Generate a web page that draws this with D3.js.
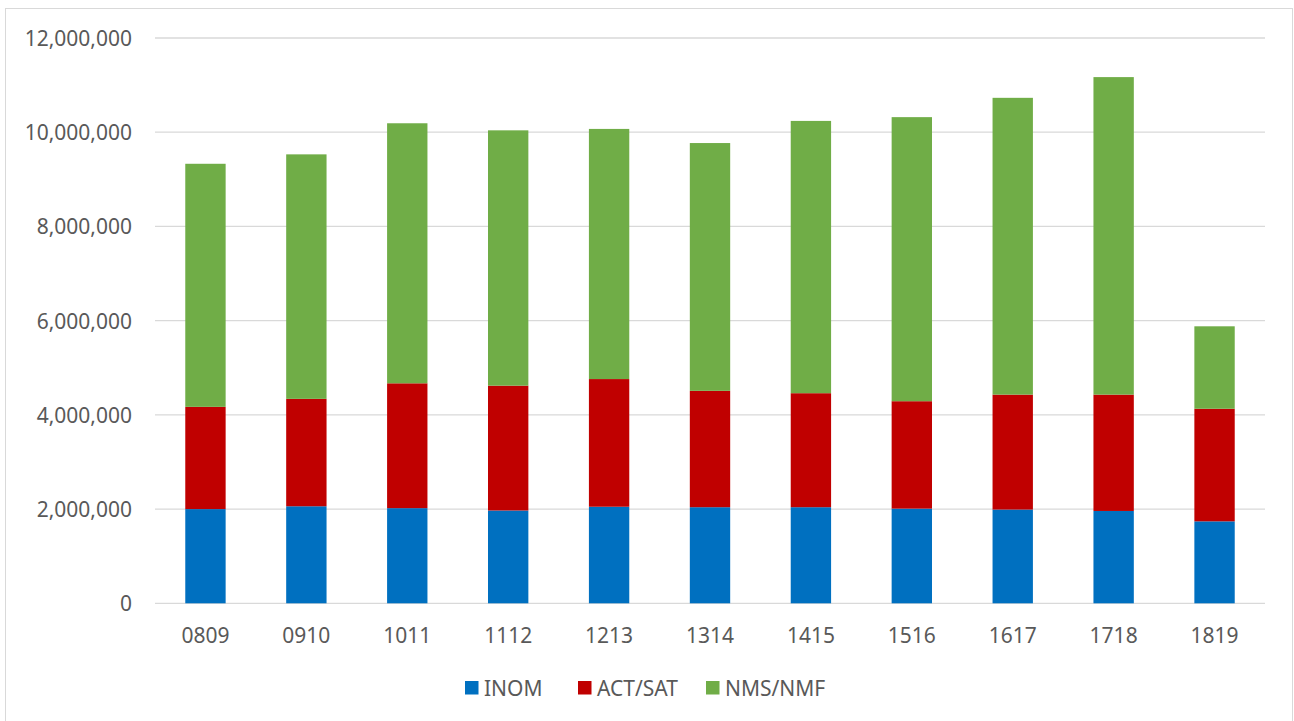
<!DOCTYPE html>
<html>
<head>
<meta charset="utf-8">
<script src="https://cdn.jsdelivr.net/npm/d3@7"></script>
<style>
  html, body { margin: 0; padding: 0; background: #fff; }
  svg { display: block; }
  text { font-family: "Noto Sans", "Open Sans", sans-serif; fill: #595959; }
</style>
</head>
<body>
<svg id="chart" width="1294" height="721"></svg>
<script>
const categories = ["0809", "0910", "1011", "1112", "1213", "1314", "1415", "1516", "1617", "1718", "1819"];
const seriesNames = ["INOM", "ACT/SAT", "NMS/NMF"];
const inom   = [2000000, 2060000, 2020000, 1970000, 2050000, 2040000, 2040000, 2010000, 1990000, 1960000, 1740000];
const actSat = [2170000, 2280000, 2650000, 2650000, 2710000, 2470000, 2420000, 2280000, 2440000, 2470000, 2390000];
const nmsNmf = [5160000, 5190000, 5520000, 5420000, 5310000, 5260000, 5780000, 6030000, 6300000, 6740000, 1750000];
const yTicks = [0, 2000000, 4000000, 6000000, 8000000, 10000000, 12000000];
const colors = ["#0070C0", "#C00000", "#70AD47"];

const svg = d3.select("#chart");

// chart border
svg.append("rect")
  .attr("x", 5.5).attr("y", 8.5).attr("width", 1287).attr("height", 713)
  .attr("fill", "none").attr("stroke", "#d9d9d9").attr("stroke-width", 1);

const x = d3.scaleBand().domain(categories).range([155, 1265]).paddingInner(0.6).paddingOuter(0.3);
const y = d3.scaleLinear().domain([0, 12000000]).range([603.3, 38]);

// gridlines
svg.append("g").selectAll("line").data(yTicks).join("line")
  .attr("x1", 155).attr("x2", 1265)
  .attr("y1", d => y(d)).attr("y2", d => y(d))
  .attr("stroke", "#d9d9d9").attr("stroke-width", 1.3);

// y labels
const fmt = d3.format(",");
svg.append("g").selectAll("text").data(yTicks).join("text")
  .attr("x", 132).attr("y", d => y(d))
  .attr("text-anchor", "end").attr("dominant-baseline", "central")
  .style("font-size", "21px")
  .text(d => fmt(d));

// stacked data
const table = categories.map((c, i) => ({ cat: c, "INOM": inom[i], "ACT/SAT": actSat[i], "NMS/NMF": nmsNmf[i] }));
const stack = d3.stack().keys(seriesNames)(table);

svg.append("g").selectAll("g").data(stack).join("g")
  .attr("fill", (d, i) => colors[i])
  .selectAll("rect").data(d => d).join("rect")
  .attr("x", d => x(d.data.cat))
  .attr("width", x.bandwidth())
  .attr("y", d => y(d[1]))
  .attr("height", d => y(d[0]) - y(d[1]));

// x labels
svg.append("g").selectAll("text").data(categories).join("text")
  .attr("x", d => x(d) + x.bandwidth() / 2).attr("y", 635)
  .attr("text-anchor", "middle").attr("dominant-baseline", "central")
  .style("font-size", "21px")
  .text(d => d);

// legend
const legendX = [465, 578, 706];
const lg = svg.append("g").selectAll("g").data(seriesNames).join("g")
  .attr("transform", (d, i) => `translate(${legendX[i]},681)`);
lg.append("rect").attr("width", 13.5).attr("height", 13.5).attr("fill", (d, i) => colors[i]);
lg.append("text").attr("x", 19).attr("y", 7).attr("dominant-baseline", "central")
  .style("font-size", "21px").text(d => d);
</script>
</body>
</html>
